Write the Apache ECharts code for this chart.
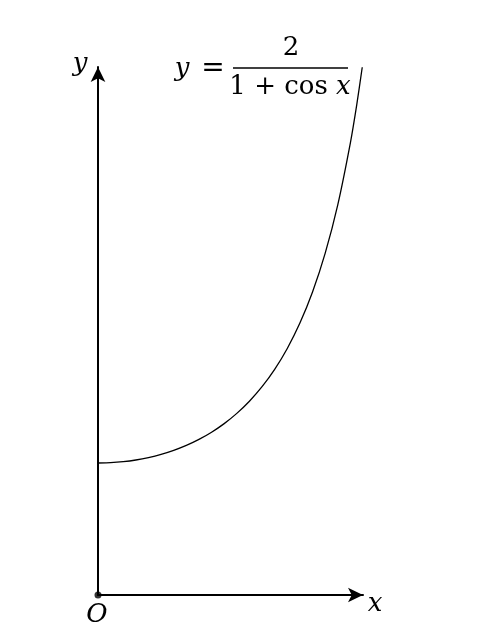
<!DOCTYPE html>
<html><head><meta charset="utf-8">
<script src="https://cdn.jsdelivr.net/npm/echarts@6/dist/echarts.min.js"></script>
<style>html,body{margin:0;padding:0;background:#fff}#c{width:478px;height:636px}</style>
</head><body><div id="c"></div>
<script>
// Curve points: y = 2 / (1 + cos x)
const xValues = [0, 0.1, 0.2, 0.3, 0.4, 0.5, 0.6, 0.7, 0.8, 0.9, 1.0, 1.1, 1.2, 1.3, 1.4, 1.5, 1.6, 1.7, 1.8, 1.9, 2.0, 2.05, 2.094];
const yValues = [1.0, 1.0025, 1.0101, 1.0228, 1.0411, 1.0652, 1.0957, 1.1332, 1.1788, 1.2333, 1.2984, 1.3759, 1.4680, 1.5779, 1.7095, 1.8679, 2.0602, 2.2958, 2.5880, 2.9555, 3.4255, 3.7111, 3.998];
const xAxisMax = 2.1;
const yAxisMax = 4;

const chart = echarts.init(document.getElementById('c'), null, {renderer: 'canvas'});
const serif = '"DejaVu Serif", "Liberation Serif", serif';
chart.setOption({
  animation: false,
  backgroundColor: '#fff',
  grid: {left: 98, right: 115, top: 67, bottom: 41, containLabel: false},
  xAxis: {
    type: 'value', min: 0, max: xAxisMax,
    axisLine: {show: true, onZero: false, symbol: ['none', 'arrow'], symbolSize: [11, 15], lineStyle: {color: '#000', width: 2}},
    axisTick: {show: false}, axisLabel: {show: false}, splitLine: {show: false}
  },
  yAxis: {
    type: 'value', min: 0, max: yAxisMax,
    axisLine: {show: true, onZero: false, symbol: ['none', 'arrow'], symbolSize: [11, 15], lineStyle: {color: '#000', width: 2}},
    axisTick: {show: false}, axisLabel: {show: false}, splitLine: {show: false}
  },
  series: [{
    type: 'line',
    data: xValues.map((x, i) => [x, yValues[i]]),
    smooth: 0.2,
    showSymbol: false,
    lineStyle: {color: '#000', width: 1.3},
    z: 3
  }, {
    type: 'scatter',
    data: [[0, 0]],
    symbolSize: 7,
    itemStyle: {color: '#000'},
    z: 5
  }],
  graphic: [
    {type: 'text', x: 80, y: 64, style: {text: 'y', font: 'italic 26px ' + serif, fill: '#000', textAlign: 'center', textVerticalAlign: 'middle'}},
    {type: 'text', x: 375, y: 604, style: {text: 'x', font: 'italic 26px ' + serif, fill: '#000', textAlign: 'center', textVerticalAlign: 'middle'}},
    {type: 'text', x: 97, y: 615, style: {text: 'O', font: 'italic 26px ' + serif, fill: '#000', textAlign: 'center', textVerticalAlign: 'middle'}},
    {type: 'text', x: 182, y: 69, style: {text: 'y', font: 'italic 26px ' + serif, fill: '#000', textAlign: 'center', textVerticalAlign: 'middle'}},
    {type: 'text', x: 213, y: 69, style: {text: '=', font: '28px ' + serif, fill: '#000', textAlign: 'center', textVerticalAlign: 'middle'}},
    {type: 'text', x: 291, y: 48, style: {text: '2', font: '26px ' + serif, fill: '#000', textAlign: 'center', textVerticalAlign: 'middle'}},
    {type: 'line', shape: {x1: 233, y1: 68, x2: 348, y2: 68}, style: {stroke: '#000', lineWidth: 1.5}},
    {type: 'text', x: 290, y: 87, style: {rich: {r: {font: '26px ' + serif, fill: '#000'}, i: {font: 'italic 26px ' + serif, fill: '#000'}}, text: '{r|1 + cos }{i|x}', textAlign: 'center', textVerticalAlign: 'middle'}}
  ]
});
</script></body></html>
